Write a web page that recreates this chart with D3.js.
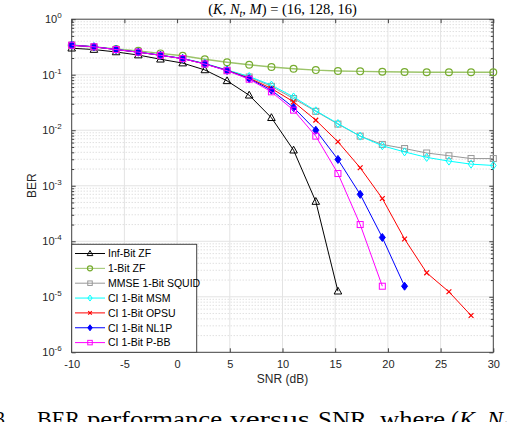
<!DOCTYPE html>
<html>
<head>
<meta charset="utf-8">
<script src="https://cdn.jsdelivr.net/npm/d3@7"></script>
<style>
  body { margin: 0; background: #fff; }
  svg { display: block; }
  .tick-label { font-family: "Liberation Sans", Arial, sans-serif; font-size: 11px; fill: #262626; }
</style>
</head>
<body>
<div id="chart"></div>
<script>
// SNR points (dB)
const snr = [-10, -7.89, -5.79, -3.68, -1.58, 0.53, 2.63, 4.74, 6.84, 8.95,
             11.05, 13.16, 15.26, 17.37, 19.47, 21.58, 23.68, 25.79, 27.89, 30];

const xTicks = [-10, -5, 0, 5, 10, 15, 20, 25, 30];
const yExps = [0, -1, -2, -3, -4, -5, -6];

// BER values
const infBitZF = [0.30, 0.284, 0.257, 0.226, 0.19, 0.162, 0.122, 0.0776, 0.0427, 0.0168,
                  0.00437, 5.2e-4, 1.26e-5];
const oneBitZF = [0.34, 0.316, 0.292, 0.269, 0.242, 0.219, 0.19, 0.168, 0.151, 0.138,
                  0.128, 0.121, 0.117, 0.115, 0.113, 0.112, 0.111, 0.111, 0.111, 0.111];
const squid = [0.34, 0.318, 0.284, 0.255, 0.224, 0.195, 0.158, 0.121, 0.091, 0.0617,
               0.0372, 0.0219, 0.0129, 0.00783, 0.00555, 0.00468, 0.00389, 0.00347, 0.00309, 0.00309];
const msm = [0.345, 0.32, 0.286, 0.257, 0.226, 0.197, 0.16, 0.122, 0.093, 0.0649,
             0.0398, 0.0224, 0.0132, 0.00783, 0.00525, 0.00407, 0.00324, 0.00278, 0.00245, 0.00232];
const opsu = [0.34, 0.318, 0.284, 0.255, 0.224, 0.195, 0.157, 0.12, 0.087, 0.0565,
              0.0325, 0.0152, 0.0062, 0.00211, 5.9e-4, 1.1e-4, 2.7e-5, 1.23e-5, 4.6e-6];
const nl1p = [0.34, 0.318, 0.284, 0.255, 0.224, 0.195, 0.157, 0.119, 0.085, 0.0527,
              0.0257, 0.01, 0.00298, 7.0e-4, 1.17e-4, 1.55e-5];
const pbb = [0.34, 0.318, 0.284, 0.255, 0.224, 0.195, 0.156, 0.118, 0.083, 0.0492,
             0.023, 0.00783, 0.00166, 2.0e-4, 1.55e-5];

const seriesNames = ["Inf-Bit ZF", "1-Bit ZF", "MMSE 1-Bit SQUID", "CI 1-Bit MSM",
                     "CI 1-Bit OPSU", "CI 1-Bit NL1P", "CI 1-Bit P-BB"];
const seriesColors = ["#000000", "#77AC30", "#999999", "#00FFFF", "#FF0000", "#0000FF", "#FF00FF"];
const seriesMarkers = ["triangle", "circle", "square", "diamond", "cross", "filled", "square"];
const seriesValues = [infBitZF, oneBitZF, squid, msm, opsu, nl1p, pbb];

// caption words (the figure caption is cut off at the bottom edge)
const captionWords = ["3.", "BER", "performance", "versus", "SNR,", "where"];

const W = 522, H = 422;
const plot = {left: 71.7, right: 493.3, top: 19.2, bottom: 352.3};

const svg = d3.select("#chart").append("svg")
    .attr("width", W)
    .attr("height", H);

const x = d3.scaleLinear().domain([-10, 30]).range([plot.left, plot.right]);
const y = d3.scaleLog().domain([1e-6, 1]).range([plot.bottom, plot.top]);

// minor grid (y only, dotted)
let minorVals = [];
for (let e = -6; e < 0; e++) {
    for (let m = 2; m <= 9; m++) minorVals.push(m * Math.pow(10, e));
}
svg.append("g").selectAll("line").data(minorVals).enter().append("line")
    .attr("x1", plot.left).attr("x2", plot.right)
    .attr("y1", d => y(d)).attr("y2", d => y(d))
    .attr("stroke", "#c8c8c8").attr("stroke-width", 0.8)
    .attr("stroke-dasharray", "1,2");

// major grid
svg.append("g").selectAll("line").data(xTicks.slice(1, -1)).enter().append("line")
    .attr("x1", d => x(d)).attr("x2", d => x(d))
    .attr("y1", plot.top).attr("y2", plot.bottom)
    .attr("stroke", "#e3e3e3").attr("stroke-width", 1);
svg.append("g").selectAll("line").data(yExps.slice(1, -1)).enter().append("line")
    .attr("x1", plot.left).attr("x2", plot.right)
    .attr("y1", d => y(Math.pow(10, d))).attr("y2", d => y(Math.pow(10, d)))
    .attr("stroke", "#e3e3e3").attr("stroke-width", 1);

// axes with inward ticks on all sides
const axisColor = "#404040";
const xAxisB = d3.axisBottom(x).tickValues(xTicks).tickSizeInner(-4).tickSizeOuter(0).tickPadding(8)
    .tickFormat(d => String(d));
const xAxisT = d3.axisTop(x).tickValues(xTicks).tickSizeInner(-4).tickSizeOuter(0).tickFormat("");
const yMajor = yExps.map(e => Math.pow(10, e));
const yAxisL = d3.axisLeft(y).tickValues(yMajor).tickSizeInner(-4).tickSizeOuter(0).tickFormat("");
const yAxisR = d3.axisRight(y).tickValues(yMajor).tickSizeInner(-4).tickSizeOuter(0).tickFormat("");
const yMinL = d3.axisLeft(y).tickValues(minorVals).tickSizeInner(-2.5).tickSizeOuter(0).tickFormat("");
const yMinR = d3.axisRight(y).tickValues(minorVals).tickSizeInner(-2.5).tickSizeOuter(0).tickFormat("");

function styleAxis(g) {
    g.select(".domain").remove();
    g.selectAll("line").attr("stroke", axisColor);
    g.selectAll("text").attr("class", "tick-label").attr("fill", "#262626");
}

svg.append("g").attr("transform", `translate(0,${plot.bottom})`).call(xAxisB).call(styleAxis);
svg.append("g").attr("transform", `translate(0,${plot.top})`).call(xAxisT).call(styleAxis);
svg.append("g").attr("transform", `translate(${plot.left},0)`).call(yAxisL).call(styleAxis);
svg.append("g").attr("transform", `translate(${plot.right},0)`).call(yAxisR).call(styleAxis);
svg.append("g").attr("transform", `translate(${plot.left},0)`).call(yMinL).call(styleAxis);
svg.append("g").attr("transform", `translate(${plot.right},0)`).call(yMinR).call(styleAxis);

// y tick labels as 10^n
const yLab = svg.append("g").selectAll("text").data(yExps).enter().append("text")
    .attr("class", "tick-label")
    .attr("x", plot.left - 10)
    .attr("y", d => y(Math.pow(10, d)) + 4)
    .attr("text-anchor", "end");
yLab.append("tspan").text("10");
yLab.append("tspan").attr("dy", -5).attr("font-size", "8px").text(d => d);

// box
svg.append("rect")
    .attr("x", plot.left).attr("y", plot.top)
    .attr("width", plot.right - plot.left).attr("height", plot.bottom - plot.top)
    .attr("fill", "none").attr("stroke", axisColor).attr("stroke-width", 1);

// axis titles
svg.append("text")
    .attr("x", (plot.left + plot.right) / 2).attr("y", 383)
    .attr("text-anchor", "middle")
    .attr("font-family", "Liberation Sans, Arial, sans-serif").attr("font-size", "12px")
    .attr("fill", "#262626")
    .text("SNR (dB)");
svg.append("text")
    .attr("transform", `translate(36,${(plot.top + plot.bottom) / 2}) rotate(-90)`)
    .attr("text-anchor", "middle")
    .attr("font-family", "Liberation Sans, Arial, sans-serif").attr("font-size", "12px")
    .attr("fill", "#262626")
    .text("BER");

// title
const title = svg.append("text")
    .attr("x", (plot.left + plot.right) / 2).attr("y", 14)
    .attr("text-anchor", "middle")
    .attr("font-family", "Liberation Serif, Times New Roman, serif").attr("font-size", "14.5px")
    .attr("fill", "#000");
title.append("tspan").text("(");
title.append("tspan").attr("font-style", "italic").text("K");
title.append("tspan").text(", ");
title.append("tspan").attr("font-style", "italic").text("N");
title.append("tspan").attr("font-style", "italic").attr("font-size", "10px").attr("dy", 3).text("t");
title.append("tspan").attr("dy", -3).text(", ");
title.append("tspan").attr("font-style", "italic").text("M");
title.append("tspan").text(") = (16, 128, 16)");

// markers
function drawMarker(g, type, color, size) {
    const s = size;
    if (type === "triangle") {
        g.append("path").attr("d", `M0,${-s}L${s * 0.95},${s * 0.7}L${-s * 0.95},${s * 0.7}Z`)
            .attr("fill", "none").attr("stroke", color).attr("stroke-width", 1);
    } else if (type === "circle") {
        g.append("circle").attr("r", s * 0.85).attr("fill", "none").attr("stroke", color).attr("stroke-width", 1.2);
    } else if (type === "square") {
        g.append("rect").attr("x", -s * 0.75).attr("y", -s * 0.75).attr("width", s * 1.5).attr("height", s * 1.5)
            .attr("fill", "none").attr("stroke", color).attr("stroke-width", 1);
    } else if (type === "diamond") {
        g.append("path").attr("d", `M0,${-s}L${s * 0.7},0L0,${s}L${-s * 0.7},0Z`)
            .attr("fill", "none").attr("stroke", color).attr("stroke-width", 1);
    } else if (type === "cross") {
        const c = s * 0.6;
        g.append("path").attr("d", `M${-c},${-c}L${c},${c}M${-c},${c}L${c},${-c}`)
            .attr("stroke", color).attr("stroke-width", 1.2);
    } else if (type === "filled") {
        g.append("path").attr("d", `M0,${-s}L${s * 0.75},0L0,${s}L${-s * 0.75},0Z`)
            .attr("fill", color).attr("stroke", color).attr("stroke-width", 1);
    }
}

const line = d3.line()
    .x((d, i) => x(snr[i]))
    .y(d => y(d));

seriesValues.forEach((vals, si) => {
    const lineColor = si === 1 ? "#9CC46A" : seriesColors[si];
    svg.append("path")
        .datum(vals)
        .attr("d", line)
        .attr("fill", "none")
        .attr("stroke", lineColor)
        .attr("stroke-width", si === 1 ? 1.4 : 1);
    vals.forEach((v, i) => {
        const g = svg.append("g").attr("transform", `translate(${x(snr[i])},${y(v)})`);
        drawMarker(g, seriesMarkers[si], seriesColors[si], 4);
    });
});

// legend
const legend = svg.append("g");
legend.append("rect")
    .attr("x", plot.left).attr("y", 244.3)
    .attr("width", 125).attr("height", plot.bottom - 244.3)
    .attr("fill", "#fff").attr("stroke", axisColor).attr("stroke-width", 1);
seriesNames.forEach((name, i) => {
    const ly = 253.5 + i * 14.85;
    const lineColor = i === 1 ? "#9CC46A" : seriesColors[i];
    legend.append("line")
        .attr("x1", 75).attr("x2", 105).attr("y1", ly).attr("y2", ly)
        .attr("stroke", lineColor).attr("stroke-width", 1);
    const g = legend.append("g").attr("transform", `translate(90,${ly})`);
    drawMarker(g, seriesMarkers[i], seriesColors[i], 3);
    legend.append("text")
        .attr("x", 108).attr("y", ly + 3.8)
        .attr("font-family", "Liberation Sans, Arial, sans-serif").attr("font-size", "10.5px")
        .attr("fill", "#000")
        .text(name);
});

// caption fragment at the bottom (cut off like the source); each word fitted to its span
const capSpans = [[-5, 15], [37, 43], [87, 135], [230, 80], [318, 55], [380, 65]];
captionWords.forEach((w, i) => {
    svg.append("text")
        .attr("x", capSpans[i][0]).attr("y", 427)
        .attr("font-family", "Liberation Serif, Times New Roman, serif").attr("font-size", "24px")
        .attr("textLength", capSpans[i][1]).attr("lengthAdjust", "spacingAndGlyphs")
        .attr("fill", "#000")
        .text(w);
});
const capMath = svg.append("text")
    .attr("x", 451).attr("y", 427)
    .attr("font-family", "Liberation Serif, Times New Roman, serif").attr("font-size", "24px")
    .attr("fill", "#000");
capMath.append("tspan").text("(");
capMath.append("tspan").attr("font-style", "italic").text("K");
capMath.append("tspan").text(", ");
capMath.append("tspan").attr("font-style", "italic").text("N");
capMath.append("tspan").attr("font-style", "italic").attr("font-size", "16px").attr("dy", 4).text("t");
</script>
</body>
</html>
